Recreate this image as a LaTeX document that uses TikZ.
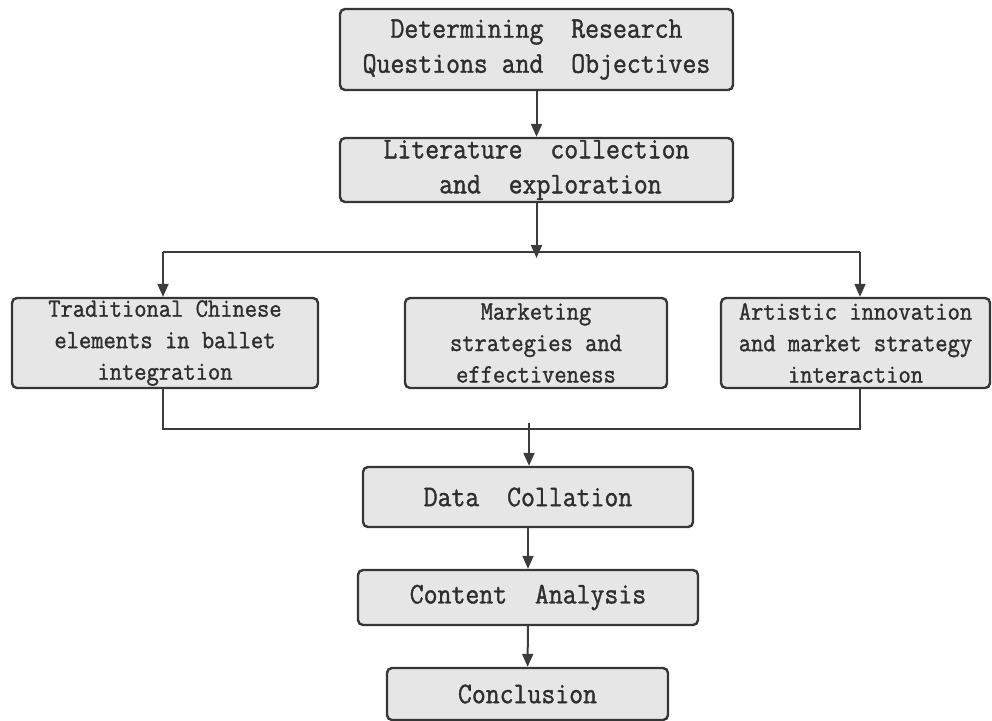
\documentclass[tikz,border=0pt]{standalone}
\usepackage{fontspec}
\newfontfamily\boxfont{Latin Modern Mono}[FakeBold=1.2,FakeStretch=0.9]
\usetikzlibrary{arrows.meta}
\definecolor{boxfill}{HTML}{E6E6E6}
\definecolor{boxline}{HTML}{363636}
\definecolor{txt}{HTML}{2E2E2E}
\definecolor{conn}{HTML}{3C3C3C}
\tikzset{
  box/.style={draw=boxline, line width=2.4pt, fill=boxfill, rounded corners=5pt,
    inner sep=0pt, align=center, text=txt, font=\boxfont\fontsize{30}{35}\selectfont},
  midbox/.style={box, font=\boxfont\fontsize{26.5}{31.5}\selectfont},
  conn/.style={draw=conn, line width=2pt},
  arr/.style={conn, -{Triangle[length=13pt,width=11pt]}},
}
\begin{document}
\begin{tikzpicture}[x=1pt,y=-1pt]
\useasboundingbox (0,0) rectangle (992,720);
\node[box, minimum width=393, minimum height=81] (b1) at (536.5,49.5)
  {Determining\ \ Research\\Questions and\ \ Objectives};
\node[box, minimum width=393, minimum height=64] (b2) at (536.5,170)
  {Literature\ \ collection\\\ \ and\ \ exploration};
\node[midbox, minimum width=306, minimum height=90] (t1) at (165,343)
  {Traditional Chinese\\elements in ballet\\integration};
\node[midbox, minimum width=262, minimum height=90] (t2) at (536,343)
  {Marketing\\strategies and\\effectiveness};
\node[midbox, minimum width=269, minimum height=90] (t3) at (855.5,343)
  {Artistic innovation\\and market strategy\\interaction};
\node[box, minimum width=330, minimum height=60] (d) at (528,497)
  {Data\ \ Collation};
\node[box, minimum width=340, minimum height=55] (c) at (528,597.5)
  {Content\ \ Analysis};
\node[box, minimum width=281, minimum height=52] (e) at (527.5,694)
  {Conclusion};

\coordinate (hl) at (163,252);
\coordinate (hr) at (860,252);
\coordinate (hm) at (536.5,258);
\coordinate (ll) at (163,429);
\coordinate (lr) at (860,429);
\coordinate (lm) at (529,423);

\draw[arr] (b1) -- (b2);
\draw[arr] (b2.south) -- (hm);
\draw[conn] (hl) -- (hr);
\draw[arr] (hl) -- (hl |- t1.north);
\draw[arr] (hr) -- (hr |- t3.north);
\draw[conn] (ll |- t1.south) -- (ll) -- (lr) -- (lr |- t3.south);
\draw[arr] (lm) -- (lm |- d.north);
\draw[arr] (d) -- (c);
\draw[arr] (c) -- (e);
\end{tikzpicture}
\end{document}
